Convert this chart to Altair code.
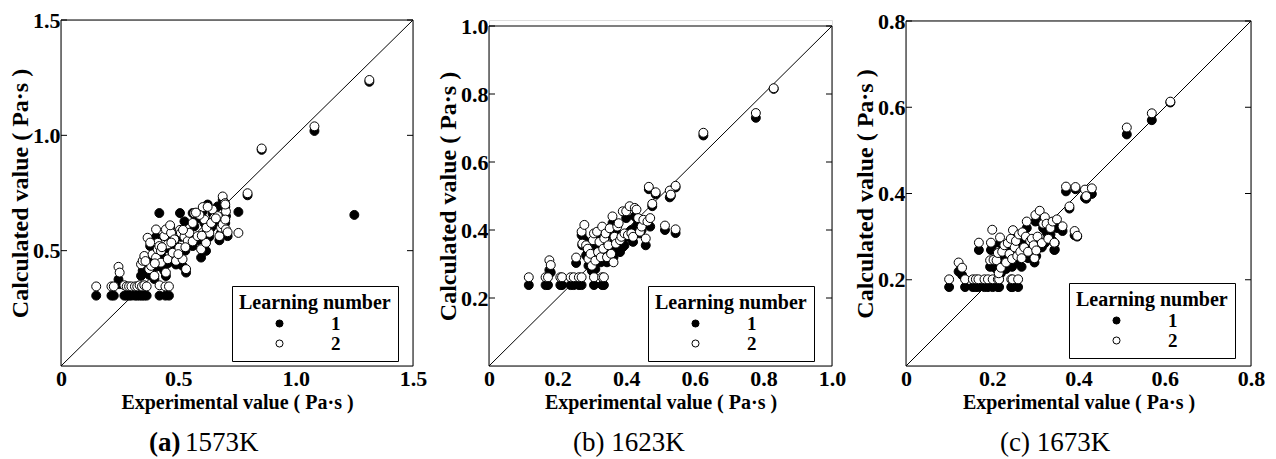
import altair as alt
import pandas as pd

FONT = "Liberation Serif"

# ---------------- (a) 1573K ----------------
a_exp = [0.150, 0.215, 0.225, 0.245, 0.250, 0.270, 0.280, 0.290, 0.300, 0.315, 0.325, 0.335,
         0.345, 0.355, 0.365, 0.420, 0.445, 0.460,
         0.341, 0.348, 0.355, 0.369, 0.376, 0.384, 0.390, 0.398, 0.405, 0.405, 0.412, 0.412,
         0.419, 0.426, 0.426, 0.440, 0.447, 0.447, 0.455, 0.455, 0.469, 0.476, 0.483, 0.490,
         0.504, 0.507, 0.511, 0.518, 0.526, 0.533, 0.540, 0.547, 0.561, 0.561, 0.568, 0.582,
         0.597, 0.604, 0.611, 0.618, 0.632, 0.646, 0.653, 0.668, 0.675, 0.682, 0.689, 0.689,
         0.699, 0.703, 0.703, 0.710, 0.756, 0.795, 0.855, 1.080, 1.250, 1.314,
         0.360, 0.430, 0.500, 0.520, 0.590, 0.620, 0.640, 0.470, 0.530, 0.400, 0.600, 0.660,
         0.700, 0.700, 0.380, 0.465, 0.575, 0.625]
a_calc1 = [0.305, 0.305, 0.305, 0.375, 0.355, 0.305, 0.305, 0.305, 0.305, 0.305, 0.305, 0.305,
           0.305, 0.305, 0.305, 0.305, 0.305, 0.305,
           0.391, 0.413, 0.413, 0.405, 0.395, 0.405, 0.470, 0.377, 0.560, 0.455, 0.490, 0.520,
           0.663, 0.480, 0.430, 0.413, 0.560, 0.390, 0.510, 0.445, 0.560, 0.475, 0.530, 0.440,
           0.495, 0.663, 0.560, 0.434, 0.627, 0.405, 0.525, 0.560, 0.663, 0.520, 0.606, 0.545,
           0.470, 0.670, 0.620, 0.499, 0.560, 0.660, 0.635, 0.692, 0.545, 0.577, 0.600, 0.720,
           0.690, 0.650, 0.575, 0.563, 0.668, 0.740, 0.937, 1.019, 0.655, 1.232,
           0.440, 0.500, 0.470, 0.580, 0.640, 0.580, 0.600, 0.520, 0.500, 0.430, 0.550, 0.620,
           0.620, 0.690, 0.520, 0.600, 0.650, 0.700]
a_calc2 = [0.345, 0.345, 0.345, 0.430, 0.405, 0.350, 0.345, 0.345, 0.345, 0.345, 0.345, 0.350,
           0.345, 0.350, 0.345, 0.350, 0.345, 0.345,
           0.441, 0.456, 0.477, 0.556, 0.420, 0.434, 0.484, 0.391, 0.592, 0.470, 0.506, 0.534,
           0.520, 0.499, 0.448, 0.563, 0.592, 0.405, 0.527, 0.463, 0.577, 0.491, 0.549, 0.456,
           0.513, 0.590, 0.577, 0.463, 0.560, 0.420, 0.542, 0.577, 0.620, 0.540, 0.663, 0.563,
           0.506, 0.689, 0.635, 0.534, 0.577, 0.678, 0.642, 0.650, 0.563, 0.600, 0.613, 0.735,
           0.706, 0.670, 0.592, 0.580, 0.577, 0.749, 0.943, 1.039, None, 1.240,
           0.455, 0.515, 0.485, 0.590, 0.655, 0.600, 0.620, 0.535, 0.515, 0.445, 0.565, 0.640,
           0.635, 0.700, 0.535, 0.610, 0.665, 0.690]

# ---------------- (b) 1623K ----------------
b_exp = [0.116, 0.165, 0.172, 0.208, 0.213, 0.238, 0.247, 0.262, 0.270, 0.306, 0.330, 0.335,
         0.176, 0.180, 0.254,
         0.270, 0.272, 0.278, 0.283, 0.288, 0.290, 0.296, 0.300, 0.303, 0.306, 0.310, 0.315,
         0.318, 0.322, 0.326, 0.330, 0.333, 0.336, 0.340, 0.344, 0.348, 0.352, 0.356, 0.360,
         0.363, 0.366, 0.370, 0.374, 0.378, 0.382, 0.386, 0.390, 0.395, 0.400, 0.405, 0.410,
         0.415, 0.420, 0.425, 0.430, 0.435, 0.440, 0.445, 0.450, 0.457, 0.462, 0.466, 0.470,
         0.476, 0.486, 0.513, 0.527, 0.530, 0.544, 0.544, 0.625, 0.778, 0.830]
b_calc1 = [0.238, 0.238, 0.238, 0.238, 0.238, 0.238, 0.238, 0.238, 0.238, 0.238, 0.238, 0.238,
           0.282, 0.275, 0.303,
           0.385, 0.355, 0.370, 0.325, 0.340, 0.295, 0.300, 0.280, 0.355, 0.365, 0.285, 0.380,
           0.320, 0.360, 0.305, 0.395, 0.330, 0.355, 0.380, 0.305, 0.340, 0.400, 0.310, 0.420,
           0.320, 0.370, 0.345, 0.390, 0.355, 0.335, 0.360, 0.350, 0.355, 0.435, 0.380, 0.395,
           0.400, 0.365, 0.440, 0.410, 0.425, 0.390, 0.400, 0.415, 0.355, 0.420, 0.520, 0.410,
           0.470, 0.505, 0.400, 0.496, 0.500, 0.391, 0.525, 0.678, 0.730, 0.815]
b_calc2 = [0.261, 0.261, 0.261, 0.261, 0.261, 0.261, 0.261, 0.261, 0.261, 0.261, 0.261, 0.261,
           0.311, 0.297, 0.319,
           0.395, 0.360, 0.415, 0.355, 0.345, 0.315, 0.330, 0.295, 0.370, 0.390, 0.310, 0.395,
           0.335, 0.365, 0.320, 0.410, 0.345, 0.375, 0.390, 0.320, 0.355, 0.405, 0.330, 0.440,
           0.305, 0.380, 0.360, 0.410, 0.420, 0.370, 0.380, 0.455, 0.390, 0.455, 0.385, 0.470,
           0.390, 0.380, 0.465, 0.460, 0.435, 0.395, 0.410, 0.430, 0.375, 0.425, 0.527, 0.435,
           0.477, 0.511, 0.413, 0.516, 0.504, 0.402, 0.530, 0.686, 0.744, 0.817]

# ---------------- (c) 1673K ----------------
c_exp = [0.100, 0.137, 0.155, 0.162, 0.168, 0.182, 0.190, 0.201, 0.213, 0.216, 0.244, 0.247, 0.260,
         0.122, 0.130, 0.169, 0.197, 0.200,
         0.195, 0.203, 0.210, 0.213, 0.215, 0.218, 0.220, 0.223, 0.228, 0.232, 0.236, 0.240,
         0.243, 0.246, 0.248, 0.252, 0.255, 0.258, 0.262, 0.265, 0.268, 0.270, 0.274, 0.278,
         0.280, 0.283, 0.288, 0.292, 0.296, 0.298, 0.300, 0.302, 0.305, 0.310, 0.315, 0.318,
         0.322, 0.326, 0.330, 0.335, 0.340, 0.345, 0.350,
         0.344, 0.363, 0.371, 0.379, 0.391, 0.397, 0.393, 0.415, 0.418, 0.431, 0.512, 0.570, 0.613]
c_calc1 = [0.183, 0.183, 0.183, 0.183, 0.183, 0.183, 0.183, 0.183, 0.183, 0.183, 0.183, 0.183, 0.183,
           0.219, 0.211, 0.269, 0.269, 0.280,
           0.230, 0.230, 0.225, 0.250, 0.200, 0.285, 0.215, 0.240, 0.255, 0.225, 0.270, 0.245,
           0.280, 0.230, 0.295, 0.260, 0.275, 0.240, 0.290, 0.250, 0.230, 0.300, 0.260, 0.290,
           0.320, 0.250, 0.275, 0.285, 0.265, 0.240, 0.335, 0.255, 0.295, 0.335, 0.275, 0.320,
           0.285, 0.310, 0.300, 0.305, 0.290, 0.270, 0.320,
           0.269, 0.313, 0.405, 0.365, 0.303, 0.300, 0.410, 0.390, 0.388, 0.399, 0.537, 0.570, 0.611]
c_calc2 = [0.201, 0.201, 0.201, 0.201, 0.201, 0.201, 0.201, 0.201, 0.201, 0.201, 0.201, 0.201, 0.201,
           0.240, 0.228, 0.286, 0.286, 0.316,
           0.245, 0.246, 0.245, 0.262, 0.215, 0.298, 0.228, 0.265, 0.280, 0.240, 0.285, 0.260,
           0.295, 0.248, 0.315, 0.275, 0.290, 0.255, 0.305, 0.265, 0.250, 0.310, 0.275, 0.300,
           0.335, 0.265, 0.290, 0.295, 0.280, 0.250, 0.350, 0.268, 0.300, 0.360, 0.285, 0.330,
           0.345, 0.330, 0.295, 0.320, 0.335, 0.285, 0.340,
           0.286, 0.324, 0.416, 0.370, 0.313, 0.302, 0.415, 0.409, 0.394, 0.412, 0.553, 0.586, 0.613]

SERIES = ["1", "2"]


def long_df(xs, y1s, y2s):
    rows = []
    for x, y in zip(xs, y1s):
        if y is not None:
            rows.append({"exp": x, "calc": y, "Learning number": SERIES[0]})
    for x, y in zip(xs, y2s):
        if y is not None:
            rows.append({"exp": x, "calc": y, "Learning number": SERIES[1]})
    return pd.DataFrame(rows)


LABEL_EXPR = "datum.value == 0 ? '0' : format(datum.value, '.1f')"
H = 346


def panel(xs, y1s, y2s, dmax, xticks, yticks, w, top, cap_parts, legend_xy):
    h = H
    df = long_df(xs, y1s, y2s)
    sx = alt.Scale(domain=[0, dmax], nice=False)
    sy = alt.Scale(domain=[0, dmax], nice=False, range=[h, top])
    xax = alt.Axis(values=xticks, labelExpr=LABEL_EXPR, title="Experimental value  ( Pa·s )",
                   ticks=False, domain=False, grid=False, labelFont=FONT, labelFontSize=22,
                   labelFontWeight="bold", labelColor="black", labelPadding=2,
                   titleFont=FONT, titleFontSize=20, titleFontWeight="bold", titleColor="black",
                   titlePadding=3, labelFlush=False)
    yax = alt.Axis(values=yticks, labelExpr=LABEL_EXPR, title="Calculated value  ( Pa·s )",
                   ticks=False, domain=False, grid=False, labelFont=FONT, labelFontSize=22,
                   labelFontWeight="bold", labelColor="black", labelPadding=1,
                   titleFont=FONT, titleFontSize=24, titleFontWeight="bold", titleColor="black",
                   titlePadding=0, labelFlush=False)

    frame = alt.Chart(pd.DataFrame({"f": [0]})).mark_rect(
        filled=False, stroke="black", strokeWidth=1).encode(
        x=alt.value(0), x2=alt.value(w), y=alt.value(top), y2=alt.value(h))

    diag = alt.Chart(pd.DataFrame({"exp": [0, dmax], "calc": [0, dmax]})).mark_line(
        color="black", strokeWidth=1).encode(
        x=alt.X("exp:Q", scale=sx, axis=xax), y=alt.Y("calc:Q", scale=sy, axis=yax))

    tdf = pd.DataFrame({"v": yticks})
    tick_l = alt.Chart(tdf).mark_rule(color="black", strokeWidth=1).encode(
        y=alt.Y("v:Q", scale=sy), x=alt.value(0), x2=alt.value(6))
    tick_r = alt.Chart(tdf).mark_rule(color="black", strokeWidth=1).encode(
        y=alt.Y("v:Q", scale=sy), x=alt.value(w - 6), x2=alt.value(w))

    pts = alt.Chart(df).mark_circle(size=80, stroke="black", strokeWidth=1, opacity=1).encode(
        x=alt.X("exp:Q", scale=sx),
        y=alt.Y("calc:Q", scale=sy),
        fill=alt.Fill("Learning number:N",
                      scale=alt.Scale(domain=SERIES, range=["black", "white"]),
                      legend=alt.Legend(
                          title="Learning number", orient="none",
                          legendX=legend_xy[0], legendY=legend_xy[1], direction="vertical",
                          strokeColor="black", fillColor="white", padding=7, cornerRadius=0,
                          titleFont=FONT, titleFontSize=20, titleFontWeight="bold",
                          titleColor="black", titlePadding=1,
                          labelFont=FONT, labelFontSize=19, labelFontWeight="bold",
                          labelColor="black", symbolOffset=31, labelOffset=42,
                          symbolSize=50, symbolType="circle", symbolStrokeColor="black",
                          symbolStrokeWidth=1, rowPadding=-2)),
        order=alt.Order("order_key:Q"),
    ).transform_calculate(order_key="datum['Learning number'] == '1' ? 0 : 1")

    layers = [frame, diag, tick_l, tick_r, pts]
    for text, dx, bold in cap_parts:
        layers.append(
            alt.Chart(pd.DataFrame({"cap": [text]})).mark_text(
                align="left", baseline="middle", font=FONT, fontSize=27,
                fontWeight="bold" if bold else "normal", color="black").encode(
                text="cap:N", x=alt.value(dx), y=alt.value(h + 77)))
    return alt.layer(*layers).properties(width=w, height=h)


pa = panel(a_exp, a_calc1, a_calc2, 1.5, [0, 0.5, 1.0, 1.5], [0.5, 1.0, 1.5], 352, 0,
           [("(a)", 88, True), ("1573K", 124, False)], (171, 266))
pb = panel(b_exp, b_calc1, b_calc2, 1.0, [0, 0.2, 0.4, 0.6, 0.8, 1.0], [0.2, 0.4, 0.6, 0.8, 1.0],
           343, 6, [("(b) 1623K", 84, False)], (159, 266))
pc = panel(c_exp, c_calc1, c_calc2, 0.8, [0, 0.2, 0.4, 0.6, 0.8], [0.2, 0.4, 0.6, 0.8],
           345, 1, [("(c) 1673K", 94, False)], (163, 263))

left_pair = alt.hconcat(pa, pb, spacing=8).resolve_scale(fill="independent").resolve_legend(
    fill="independent")
chart = alt.hconcat(left_pair, pc, spacing=6).resolve_scale(
    fill="independent").resolve_legend(fill="independent").configure_view(
    strokeWidth=0).configure(
    background="white", padding={"left": 0, "top": 0, "right": 0, "bottom": 0})

chart.save("out.html", embed_options={"renderer": "svg", "actions": False})
